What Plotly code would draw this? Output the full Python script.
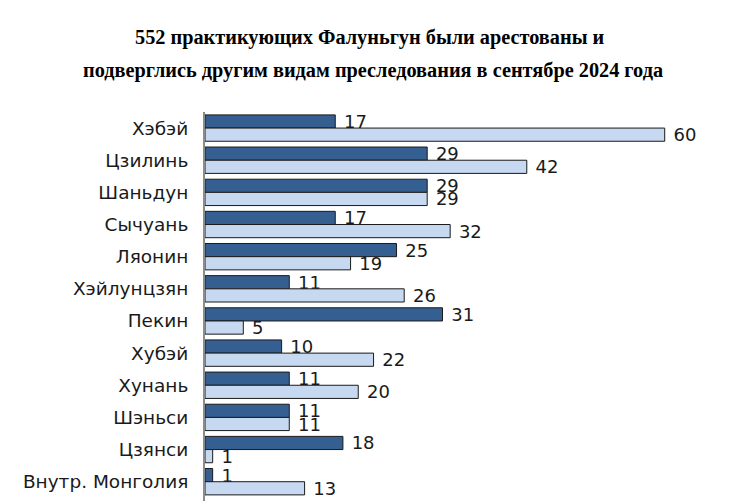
import plotly.graph_objects as go

regions = ["Хэбэй", "Цзилинь", "Шаньдун", "Сычуань", "Ляонин", "Хэйлунцзян",
           "Пекин", "Хубэй", "Хунань", "Шэньси", "Цзянси", "Внутр. Монголия"]
arrested = [17, 29, 29, 17, 25, 11, 31, 10, 11, 11, 18, 1]
harassed = [60, 42, 29, 32, 19, 26, 5, 22, 20, 11, 1, 13]
title_lines = ["552 практикующих Фалуньгун были арестованы и",
               "подверглись другим видам преследования в сентябре 2024 года"]

W, H = 732, 501
ML, MR, MT, MB = 205, 6, 112, 0
PW, PH = W - ML - MR, H - MT - MB

tick_font = dict(family="DejaVu Sans, Verdana, sans-serif", size=18.5, color="#1a1a1a")
value_font = dict(family="DejaVu Sans, Verdana, sans-serif", size=18, color="#1a1a1a")

fig = go.Figure()
fig.add_trace(go.Bar(
    y=regions, x=arrested, orientation="h", name="Арестованы",
    marker=dict(color="#365F91", line=dict(color="#1a1a1a", width=1)),
    text=arrested, texttemplate="\u00a0%{x}", textposition="outside", textangle=0,
    constraintext="none", textfont=value_font, cliponaxis=False,
))
fig.add_trace(go.Bar(
    y=regions, x=harassed, orientation="h", name="Преследования",
    marker=dict(color="#C6D9F1", line=dict(color="#1a1a1a", width=1)),
    text=harassed, texttemplate="\u00a0%{x}", textposition="outside", textangle=0,
    constraintext="none", textfont=value_font, cliponaxis=False,
))

for line, ypix, xpix in zip(title_lines, [38, 70], [370, 373]):
    fig.add_annotation(text="<b>" + line + "</b>", xref="paper", yref="paper",
                       x=(xpix - ML) / PW, y=(H - ypix) / PH,
                       xanchor="center", yanchor="middle", showarrow=False,
                       font=dict(family="Liberation Serif, Times New Roman, serif", size=20.3, color="#000"))

fig.update_layout(
    width=W, height=H,
    margin=dict(l=ML, r=MR, t=MT, b=MB),
    barmode="group", bargap=0.18, bargroupgap=0,
    showlegend=False,
    plot_bgcolor="white", paper_bgcolor="white",
)
fig.update_xaxes(range=[0, 68], showticklabels=False, showgrid=False, zeroline=False,
                 showline=False, ticks="")
fig.update_yaxes(range=[11.6, -0.5], showgrid=False, zeroline=False, showline=True,
                 linecolor="#8c8c8c", linewidth=2, ticks="", ticklabelstandoff=11,
                 tickfont=tick_font)
fig.write_html("out.html")
